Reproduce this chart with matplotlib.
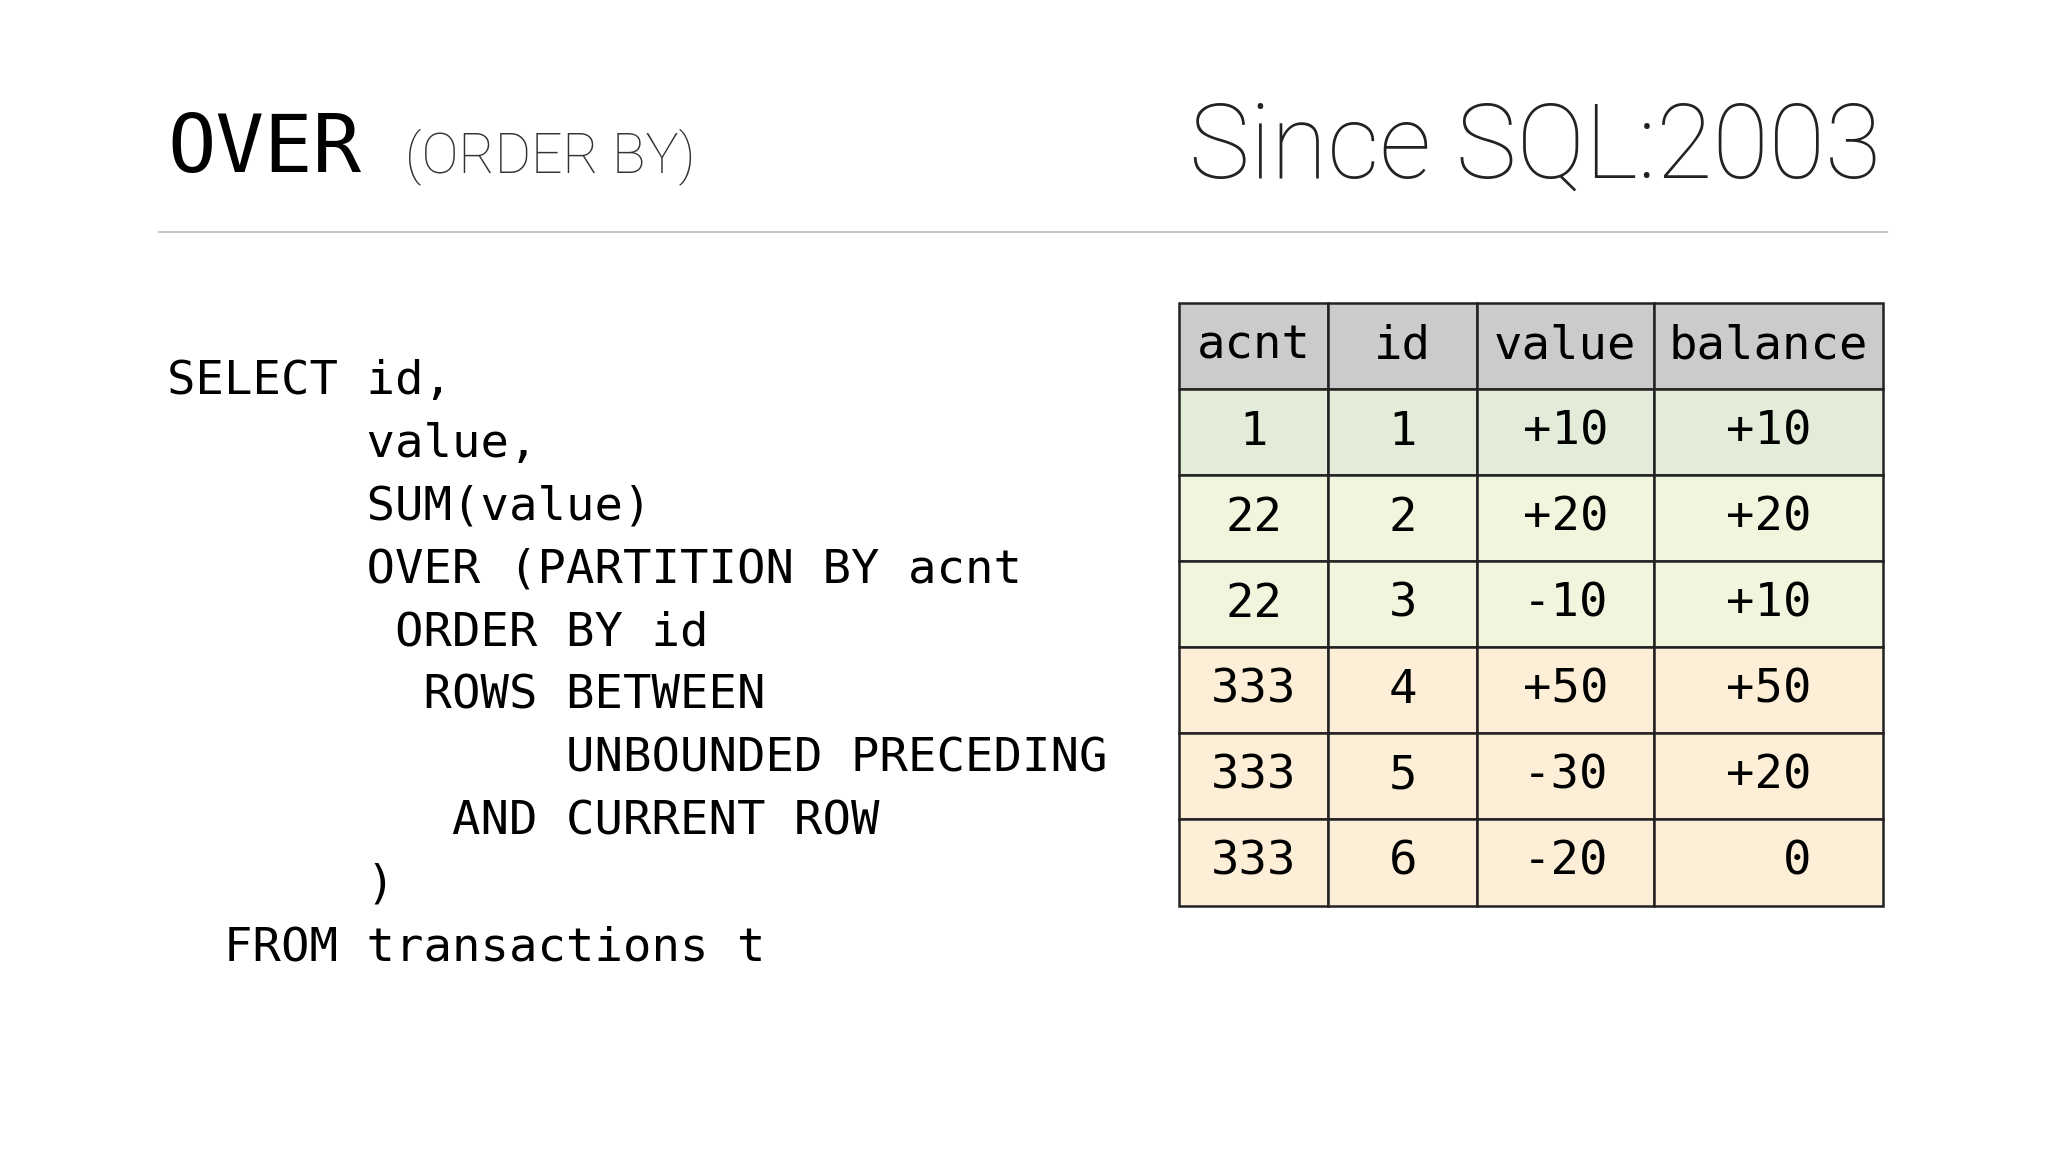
import matplotlib.pyplot as plt
from matplotlib.patches import Rectangle

# slide content
title_main = "OVER"
title_sub = "(ORDER BY)"
title_right = "Since SQL:2003"

code_lines = [
    "SELECT id,",
    "       value,",
    "       SUM(value)",
    "       OVER (PARTITION BY acnt",
    "        ORDER BY id",
    "         ROWS BETWEEN",
    "              UNBOUNDED PRECEDING",
    "          AND CURRENT ROW",
    "       )",
    "  FROM transactions t",
]

headers = ["acnt", "id", "value", "balance"]
acnt = [1, 22, 22, 333, 333, 333]
ids = [1, 2, 3, 4, 5, 6]
value = [10, 20, -10, 50, -30, -20]
balance = [10, 20, 10, 50, 20, 0]
row_colors = ["#e2ecd9", "#eff6dd", "#eff6dd", "#fdefd7", "#fdefd7", "#fdefd7"]

col_edges = [903, 1017, 1131, 1266, 1442]
row_top, row_h = 232, 65.9

W, H = 1568, 882
fig = plt.figure(figsize=(20.48, 11.52), dpi=100)
ax = fig.add_axes([0, 0, 1, 1])
ax.set_xlim(0, W)
ax.set_ylim(H, 0)
ax.axis("off")

mono = "DejaVu Sans Mono"
ax.text(128, 132, title_main, family=mono, fontsize=58, va="baseline", color="black")
ax.text(310, 132, title_sub, family="Roboto", fontweight="light", fontsize=40,
        va="baseline", color="#333333")
ax.text(1440, 136, title_right, family="Roboto", fontweight="light", fontsize=74,
        va="baseline", ha="right", color="#222222")
ax.plot([122, 1445], [178, 178], color="#c8c8c8", lw=1.5)

for i, line in enumerate(code_lines):
    ax.text(128, 292 + i * 48.2, line, family=mono, fontsize=34, va="center", color="black")


def fmt(v):
    return f"{v:+d}" if v != 0 else "  0"


rows = [headers] + [[str(a), str(b), fmt(c), fmt(d)] for a, b, c, d in zip(acnt, ids, value, balance)]
colors = ["#cbcbcb"] + row_colors
for r, (cells, fc) in enumerate(zip(rows, colors)):
    y0 = row_top + r * row_h
    for c, txt in enumerate(cells):
        x0, x1 = col_edges[c], col_edges[c + 1]
        ax.add_patch(Rectangle((x0, y0), x1 - x0, row_h, facecolor=fc,
                               edgecolor="#222222", lw=1.8))
        ax.text((x0 + x1) / 2, y0 + row_h / 2, txt, family=mono, fontsize=34,
                ha="center", va="center", color="black")

fig.savefig("out.png", dpi=100, facecolor="white")
